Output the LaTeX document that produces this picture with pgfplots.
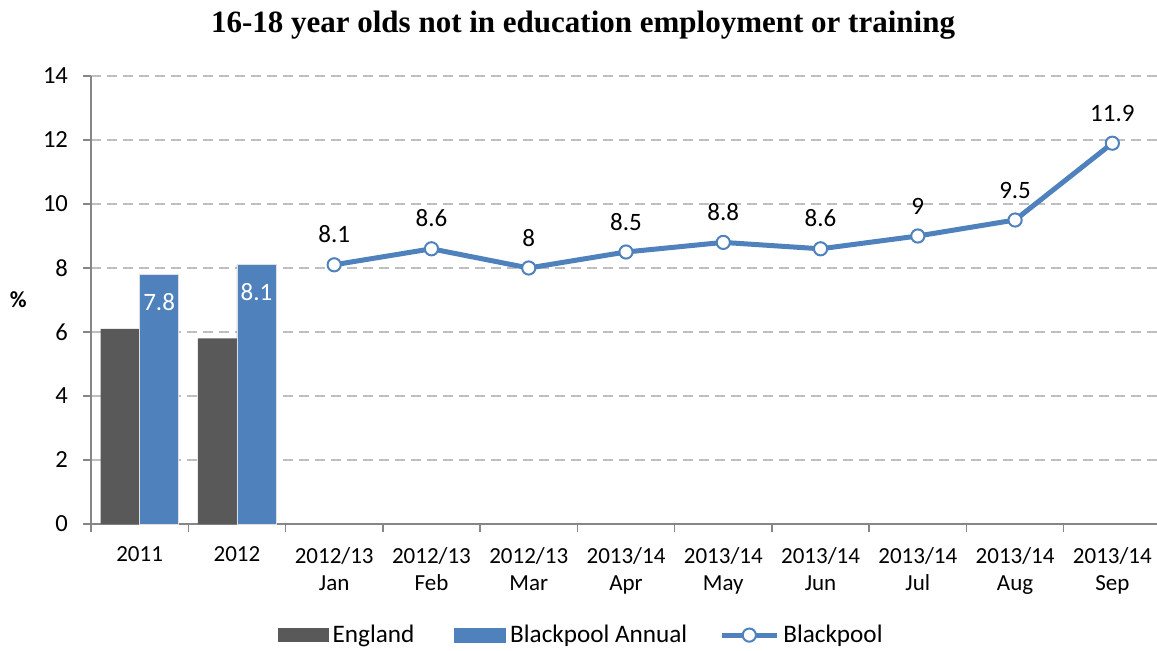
\documentclass[border=0pt]{standalone}
\usepackage{fontspec}
\setmainfont{Carlito}
\newfontfamily\titlefont{Liberation Serif}
\usepackage{pgfplots}
\pgfplotsset{compat=1.18}
\definecolor{eng}{HTML}{595959}
\definecolor{bpl}{HTML}{4F81BD}
\definecolor{gridc}{HTML}{BFBFBF}
\definecolor{axc}{HTML}{868686}
\begin{document}
\begin{tikzpicture}
\useasboundingbox (-45.5bp,-63.5bp) rectangle (533bp,262bp);
\begin{axis}[
  at={(0,0)}, anchor=south west,
  scale only axis, width=535bp, height=224bp,
  xmin=-0.5, xmax=10.5, ymin=0, ymax=14,
  /pgf/number format/assume math mode=true,
  axis x line*=bottom, axis y line*=left,
  axis line style={draw=axc, line width=0.75bp, -},
  tick style={draw=axc, line width=0.75bp},
  tick align=outside,
  major tick length=4bp,
  ytick={0,2,...,14},
  xtick={-0.5,0.5,1.5,2.5,3.5,4.5,5.5,6.5,7.5,8.5,9.5,10.5},
  xticklabels={2011,2012,{2012/13\\Jan},{2012/13\\Feb},{2012/13\\Mar},{2013/14\\Apr},{2013/14\\May},{2013/14\\Jun},{2013/14\\Jul},{2013/14\\Aug},{2013/14\\Sep},{}},
  xticklabel style={align=center, xshift=24.32bp, yshift=-4bp, font=\fontsize{11.5bp}{13.5bp}\selectfont},
  yticklabel style={xshift=-4bp, font=\fontsize{12.3bp}{14bp}\selectfont},
  ymajorgrids,
  major grid style={draw=gridc, dash pattern=on 5bp off 3bp, line width=0.6bp},
  ylabel={\%},
  ylabel style={at={(axis description cs:-0.068,0.5)}, rotate=-90, anchor=center, font=\bfseries\fontsize{11.5bp}{13bp}\selectfont},
  legend style={at={(axis description cs:0.459,-0.248)}, anchor=center, draw=none, fill=none,
    font=\fontsize{12.6bp}{14bp}\selectfont,
    /tikz/column 2/.style={column sep=18bp},
    /tikz/column 4/.style={column sep=14bp}},
  legend columns=3,
]
\addplot[ybar, bar width=19.5bp, bar shift=-9.75bp, fill=eng, draw=none,
  legend image code/.code={\fill[eng] (0bp,-3.6bp) rectangle (25.5bp,3.6bp);}]
  coordinates {(0,6.1) (1,5.8)};
\addlegendentry{England}
\addplot[ybar, bar width=19.5bp, bar shift=9.75bp, fill=bpl, draw=gray!25, line width=0.4bp,
  legend image code/.code={\fill[bpl] (0bp,-3.6bp) rectangle (25.5bp,3.6bp);}]
  coordinates {(0,7.8) (1,8.1)};
\addlegendentry{Blackpool Annual}
\addplot[color=bpl, line width=2.5bp, mark=*, mark size=3.3bp,
  mark options={fill=white, draw=bpl, line width=1bp},
  legend image code/.code={\draw[bpl, line width=2.5bp] (0bp,0bp) -- (27.5bp,0bp); \draw[bpl, fill=white, line width=1bp] (13.75bp,0bp) circle (3.3bp);},
  nodes near coords,
  nodes near coords style={anchor=south, yshift=7bp, text=black, font=\fontsize{12.5bp}{14bp}\selectfont}]
  coordinates {(2,8.1) (3,8.6) (4,8) (5,8.5) (6,8.8) (7,8.6) (8,9) (9,9.5) (10,11.9)};
\addlegendentry{Blackpool}
\addplot[draw=none, mark=none, forget plot, nodes near coords,
  nodes near coords style={anchor=north, xshift=9.75bp, yshift=-6bp, text=white, font=\fontsize{12.5bp}{14bp}\selectfont}]
  coordinates {(0,7.8) (1,8.1)};
\end{axis}
\node[font=\titlefont\bfseries\fontsize{15.5bp}{18bp}\selectfont] at (246bp,249.5bp) {16-18 year olds not in education employment or training};
\end{tikzpicture}
\end{document}
